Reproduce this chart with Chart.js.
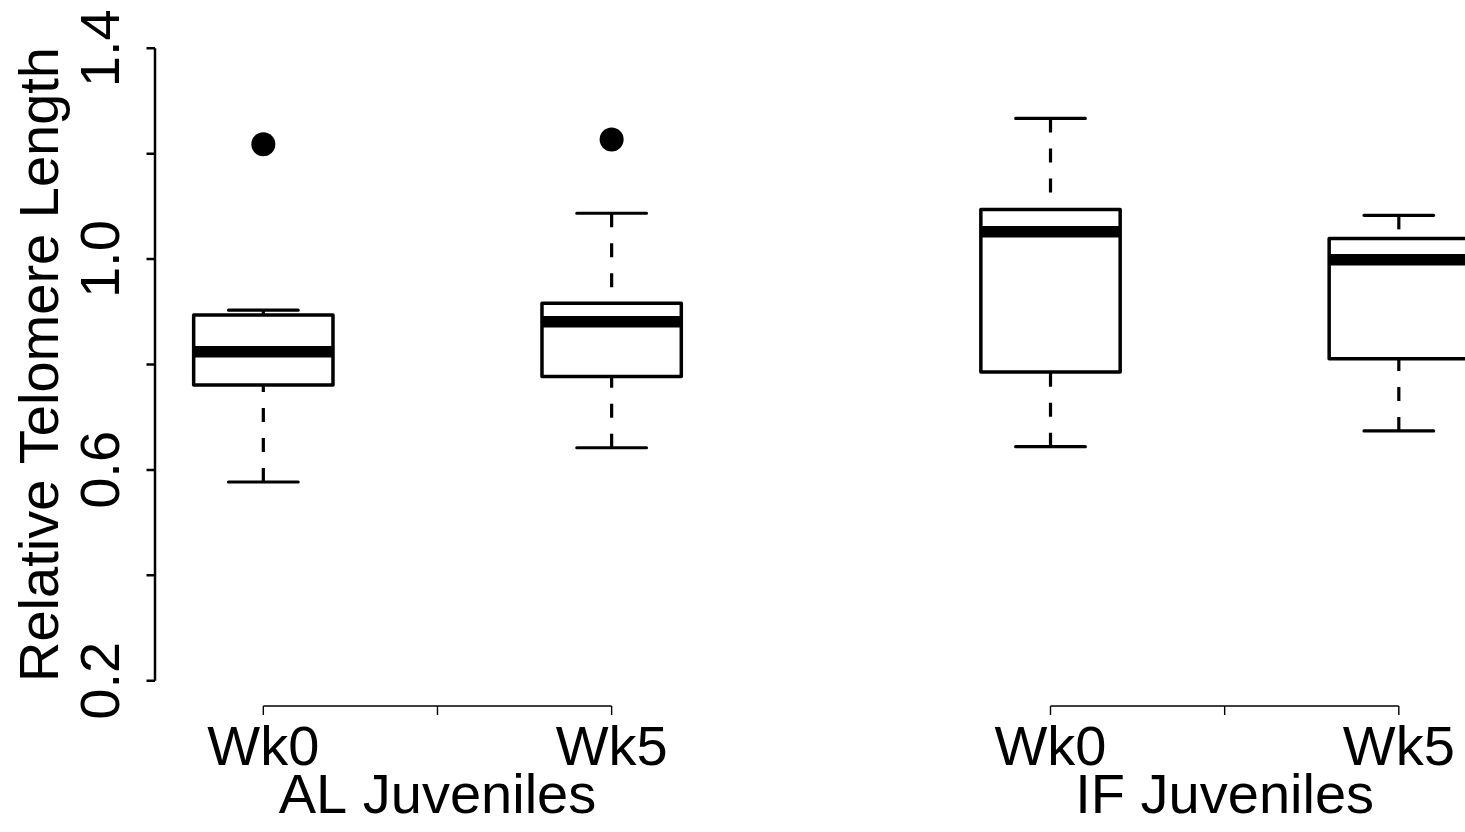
<!DOCTYPE html>
<html>
<head>
<meta charset="utf-8">
<script src="https://cdn.jsdelivr.net/npm/chart.js@4.4.1/dist/chart.umd.min.js"></script>
<style>
  html, body { margin: 0; padding: 0; background: #fff; }
  canvas { display: block; }
</style>
</head>
<body>
<canvas id="myChart" width="1465" height="832"></canvas>
<script>
// values
const categories = ['Wk0', 'Wk5', 'Wk0', 'Wk5'];
const groupLabels = ['AL Juveniles', 'IF Juveniles'];
const groupOf = [0, 0, 1, 1];

const lowerWhisker = [0.577, 0.642, 0.644, 0.674];
const q1 = [0.761, 0.777, 0.786, 0.811];
const median = [0.824, 0.881, 1.052, 0.999];
const q3 = [0.894, 0.916, 1.094, 1.039];
const upperWhisker = [0.903, 1.087, 1.267, 1.083];
const outliers = [[1.218], [1.227], [], []];

const yTicks = [0.2, 0.4, 0.6, 0.8, 1.0, 1.2, 1.4];
const yTickLabels = ['0.2', '', '0.6', '', '1.0', '', '1.4'];
const yTitle = 'Relative Telomere Length';

// where each box sits on the x scale (like R's "at")
const boxAt = [1, 2, 3.26, 4.26];

const FONT = '"Liberation Sans", Arial, Helvetica, sans-serif';

// outlier points for the scatter dataset
const outlierPoints = [];
outliers.forEach((list, i) => {
  list.forEach(v => outlierPoints.push({ x: boxAt[i], y: v }));
});

// boxes, medians, whiskers and staples drawn through the chart scales
const boxplot = {
  id: 'boxplot',
  beforeDatasetsDraw(chart) {
    const { ctx, chartArea: a, scales: { x, y } } = chart;
    ctx.save();
    ctx.beginPath();
    ctx.rect(a.left, a.top, a.right - a.left, a.bottom - a.top);
    ctx.clip();
    ctx.strokeStyle = '#000';

    categories.forEach((c, i) => {
      const cx = x.getPixelForValue(boxAt[i]);
      const left = x.getPixelForValue(boxAt[i] - 0.2);
      const right = x.getPixelForValue(boxAt[i] + 0.2);
      const capL = x.getPixelForValue(boxAt[i] - 0.1);
      const capR = x.getPixelForValue(boxAt[i] + 0.1);
      const yLo = y.getPixelForValue(lowerWhisker[i]);
      const yQ1 = y.getPixelForValue(q1[i]);
      const yMed = y.getPixelForValue(median[i]);
      const yQ3 = y.getPixelForValue(q3[i]);
      const yHi = y.getPixelForValue(upperWhisker[i]);

      // dashed whiskers
      ctx.lineWidth = 3.2;
      ctx.lineCap = 'butt';
      ctx.setLineDash([14, 16]);
      ctx.beginPath();
      ctx.moveTo(cx, yLo); ctx.lineTo(cx, yQ1);
      ctx.stroke();
      ctx.beginPath();
      ctx.moveTo(cx, yHi); ctx.lineTo(cx, yQ3);
      ctx.stroke();
      ctx.setLineDash([]);

      // staples
      ctx.lineCap = 'round';
      ctx.beginPath();
      ctx.moveTo(capL, yLo); ctx.lineTo(capR, yLo);
      ctx.moveTo(capL, yHi); ctx.lineTo(capR, yHi);
      ctx.stroke();

      // box
      ctx.lineWidth = 3.5;
      ctx.lineJoin = 'round';
      ctx.strokeRect(left, yQ3, right - left, yQ1 - yQ3);

      // median
      ctx.lineCap = 'butt';
      ctx.lineWidth = 11.5;
      ctx.beginPath();
      ctx.moveTo(left, yMed); ctx.lineTo(right, yMed);
      ctx.stroke();
    });
    ctx.restore();
  }
};

// R style axes: detached y axis 0.2..1.4, one x axis per group
const rAxes = {
  id: 'rAxes',
  afterDraw(chart) {
    const { ctx, chartArea: a, scales: { x, y } } = chart;
    ctx.save();
    ctx.strokeStyle = '#000';
    ctx.fillStyle = '#000';
    ctx.font = '56px ' + FONT;

    // y axis
    ctx.lineWidth = 2.5;
    ctx.lineCap = 'butt';
    ctx.beginPath();
    ctx.moveTo(a.left, y.getPixelForValue(yTicks[0]));
    ctx.lineTo(a.left, y.getPixelForValue(yTicks[yTicks.length - 1]));
    yTicks.forEach(t => {
      const py = y.getPixelForValue(t);
      ctx.moveTo(a.left, py);
      ctx.lineTo(a.left - 8.5, py);
    });
    ctx.stroke();

    ctx.textAlign = 'center';
    ctx.textBaseline = 'alphabetic';
    yTicks.forEach((t, i) => {
      if (!yTickLabels[i]) return;
      ctx.save();
      ctx.translate(a.left - 36, y.getPixelForValue(t));
      ctx.rotate(-Math.PI / 2);
      ctx.fillText(yTickLabels[i], 0, 0);
      ctx.restore();
    });

    ctx.save();
    ctx.translate(a.left - 97, (a.top + a.bottom) / 2);
    ctx.rotate(-Math.PI / 2);
    ctx.fillText(yTitle, 0, 0);
    ctx.restore();

    // x axes, one per group
    ctx.lineWidth = 1.4;
    groupLabels.forEach((g, gi) => {
      const idx = boxAt.map((v, i) => i).filter(i => groupOf[i] === gi);
      const first = boxAt[idx[0]];
      const last = boxAt[idx[idx.length - 1]];
      const mid = (first + last) / 2;
      const x0 = x.getPixelForValue(first);
      const x1 = x.getPixelForValue(last);
      const xm = x.getPixelForValue(mid);
      ctx.beginPath();
      ctx.moveTo(x0, a.bottom); ctx.lineTo(x1, a.bottom);
      [x0, xm, x1].forEach(px => {
        ctx.moveTo(px, a.bottom);
        ctx.lineTo(px, a.bottom + 9);
      });
      ctx.stroke();
      idx.forEach(i => {
        ctx.fillText(categories[i], x.getPixelForValue(boxAt[i]), a.bottom + 59);
      });
      ctx.fillText(g, xm, a.bottom + 107);
    });
    ctx.restore();
  }
};

new Chart(document.getElementById('myChart').getContext('2d'), {
  type: 'scatter',
  data: {
    datasets: [{
      label: 'outliers',
      data: outlierPoints,
      pointRadius: 12,
      pointBackgroundColor: '#000',
      pointBorderWidth: 0
    }]
  },
  options: {
    responsive: false,
    animation: false,
    devicePixelRatio: 1,
    layout: { autoPadding: false, padding: { left: 155, right: 0, top: 23, bottom: 126 } },
    scales: {
      x: { type: 'linear', min: 0.689, max: 4.45, display: false },
      y: { type: 'linear', min: 0.152, max: 1.448, display: false }
    },
    plugins: {
      legend: { display: false },
      tooltip: { enabled: false }
    }
  },
  plugins: [boxplot, rAxes]
});
</script>
</body>
</html>
